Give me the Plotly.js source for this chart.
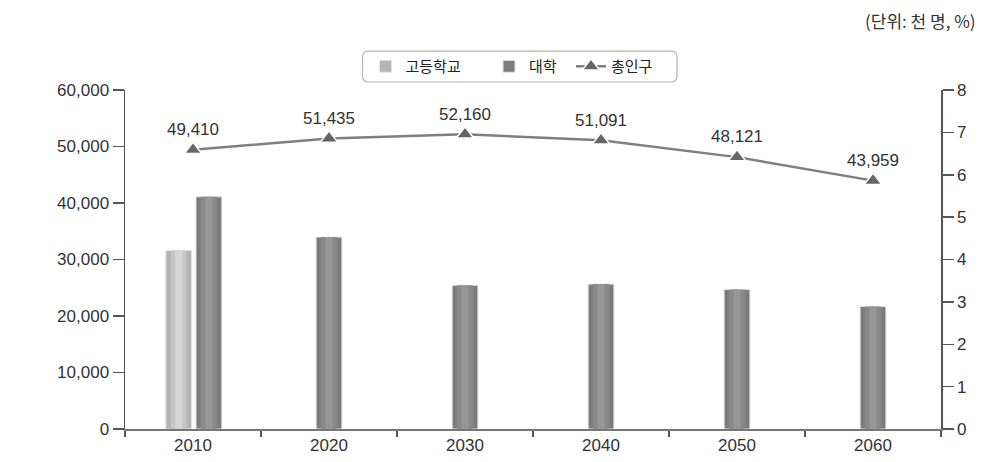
<!DOCTYPE html>
<html>
<head>
<meta charset="utf-8">
<script src="https://cdn.plot.ly/plotly-3.0.1.min.js"></script>
<style>html,body{margin:0;padding:0;background:#fff;}#chart{width:1003px;height:462px;}</style>
</head>
<body>
<div id="chart"></div>
<script>
// ---- data ----
const years = ['2010', '2020', '2030', '2040', '2050', '2060'];
const highSchool = [4.21, null, null, null, null, null];        // %, right axis
const university = [5.48, 4.53, 3.39, 3.42, 3.29, 2.89];        // %, right axis
const totalPopulation = [49410, 51435, 52160, 51091, 48121, 43959]; // 천 명, left axis
const seriesNames = ['고등학교', '대학', '총인구'];
const unitText = '(단위: 천 명, %)';

// ---- style ----
const FONT = 'Liberation Sans, Arial, sans-serif';
const KFONT = 'Noto Sans CJK KR, sans-serif';
const barW = 0.19;
const hsOffset = highSchool.map(v => -0.2);
const uniOffset = highSchool.map(v => (v !== null ? 0.022 : -barW / 2));

function barLayers(name, values, offsets, colors, legendId) {
  const fracs = [1, 0.62, 0.28];
  return fracs.map((f, i) => ({
    type: 'bar',
    name: name,
    x: years,
    y: values,
    yaxis: 'y2',
    width: years.map(() => barW * f),
    offset: offsets.map(o => o + barW * (1 - f) / 2),
    marker: {
      color: colors[i],
      line: {color: i === 0 ? '#e6e6e6' : 'rgba(0,0,0,0)', width: i === 0 ? 1 : 0}
    },
    showlegend: i === 0,
    legend: legendId,
    hoverinfo: 'skip'
  }));
}

const traces = [
  ...barLayers(seriesNames[0], highSchool, hsOffset, ['#b4b4b4', '#c6c6c6', '#d6d6d6'], 'legend'),
  ...barLayers(seriesNames[1], university, uniOffset, ['#7c7c7c', '#8a8a8a', '#979797'], 'legend2'),
  {
    type: 'scatter',
    name: seriesNames[2],
    x: years,
    y: totalPopulation,
    yaxis: 'y',
    legend: 'legend3',
    mode: 'lines+markers+text',
    line: {color: '#7f7f7f', width: 2.5},
    marker: {symbol: 'triangle-up', size: 15, color: '#666666', line: {color: '#ffffff', width: 1.5}},
    text: totalPopulation.map(v => v.toLocaleString('en-US')),
    textposition: 'top center',
    textfont: {family: FONT, size: 17, color: '#333333'},
    cliponaxis: false,
    hoverinfo: 'skip'
  }
];

const plotL = 125, plotR = 941, plotT = 90, plotB = 429.5;
const pw = plotR - plotL, ph = plotB - plotT;
const px2x = p => (p - plotL) / pw;
const px2y = p => (plotB - p) / ph;

const bx0 = 362.5, bx1 = 677, by0 = 51, by1 = 82, r = 6;
function rr() {
  const X = px2x, Y = px2y;
  return `M ${X(bx0 + r)} ${Y(by0)} L ${X(bx1 - r)} ${Y(by0)} Q ${X(bx1)} ${Y(by0)} ${X(bx1)} ${Y(by0 + r)} ` +
         `L ${X(bx1)} ${Y(by1 - r)} Q ${X(bx1)} ${Y(by1)} ${X(bx1 - r)} ${Y(by1)} ` +
         `L ${X(bx0 + r)} ${Y(by1)} Q ${X(bx0)} ${Y(by1)} ${X(bx0)} ${Y(by1 - r)} ` +
         `L ${X(bx0)} ${Y(by0 + r)} Q ${X(bx0)} ${Y(by0)} ${X(bx0 + r)} ${Y(by0)} Z`;
}

function legendAt(symCenterPx) {
  return {
    orientation: 'h',
    x: px2x(symCenterPx - 20),
    xanchor: 'left',
    y: px2y((by0 + by1) / 2),
    yanchor: 'middle',
    bgcolor: 'rgba(0,0,0,0)',
    borderwidth: 0,
    font: {family: KFONT, size: 15, color: '#222222'}
  };
}

const axisFont = {family: FONT, size: 17, color: '#333333'};

const layout = {
  width: 1003,
  height: 462,
  margin: {l: plotL, r: 1003 - plotR, t: plotT, b: 462 - plotB},
  paper_bgcolor: '#ffffff',
  plot_bgcolor: '#ffffff',
  barmode: 'overlay',
  showlegend: true,
  font: {family: FONT, size: 17, color: '#333333'},
  xaxis: {
    type: 'category',
    categoryorder: 'array',
    categoryarray: years,
    range: [-0.5, 5.5],
    showline: true,
    linecolor: '#777777',
    linewidth: 2,
    ticks: 'outside',
    tickson: 'boundaries',
    ticklen: 6,
    tickcolor: '#555555',
    tickwidth: 1.5,
    showgrid: false,
    zeroline: false,
    tickfont: axisFont
  },
  yaxis: {
    range: [0, 60000],
    dtick: 10000,
    tickformat: ',',
    showgrid: false,
    zeroline: false,
    showline: true,
    linecolor: '#555555',
    linewidth: 1.5,
    ticks: 'outside',
    ticklen: 11,
    tickcolor: '#555555',
    tickwidth: 1.5,
    tickfont: axisFont
  },
  yaxis2: {
    overlaying: 'y',
    side: 'right',
    range: [0, 8],
    dtick: 1,
    showgrid: false,
    zeroline: false,
    showline: true,
    linecolor: '#555555',
    linewidth: 1.5,
    ticks: 'outside',
    ticklen: 11,
    tickcolor: '#555555',
    tickwidth: 1.5,
    tickfont: axisFont
  },
  legend: legendAt(385.5),
  legend2: legendAt(509),
  legend3: legendAt(591),
  shapes: [{
    type: 'path',
    xref: 'paper',
    yref: 'paper',
    path: rr(),
    line: {color: '#b5b5b5', width: 1.2},
    fillcolor: '#ffffff',
    layer: 'below'
  }],
  annotations: [{
    text: unitText,
    xref: 'paper',
    yref: 'paper',
    x: px2x(978),
    y: px2y(20),
    xanchor: 'right',
    yanchor: 'middle',
    showarrow: false,
    font: {family: KFONT, size: 17, color: '#333333'}
  }]
};

Plotly.newPlot('chart', traces, layout, {staticPlot: true, displayModeBar: false});
</script>
</body>
</html>
